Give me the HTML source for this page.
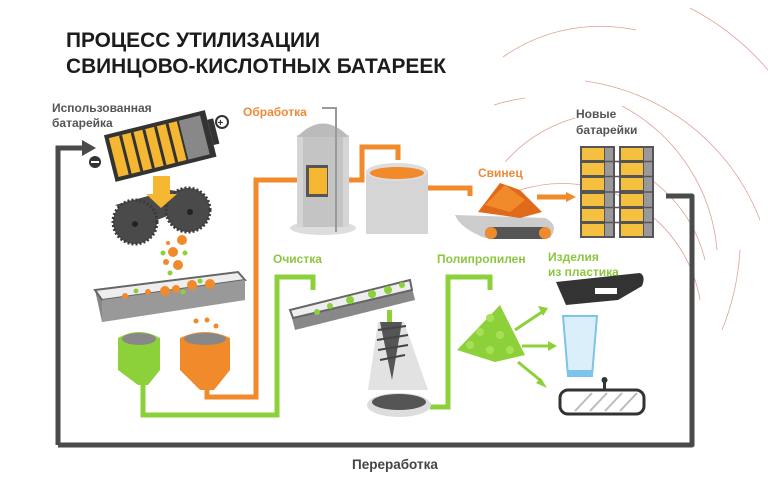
<!DOCTYPE html>
<html><head><meta charset="utf-8"><style>
html,body{margin:0;padding:0;background:#fff;}
svg{display:block;}
text{font-family:"Liberation Sans","DejaVu Sans",sans-serif;font-weight:bold;}
</style></head><body>
<svg width="768" height="504" viewBox="0 0 768 504" xmlns="http://www.w3.org/2000/svg">
<!-- arcs -->
<g fill="none" stroke="#c8654e" stroke-width="0.8" opacity="0.6">
<path d="M503 57 A170 170 0 0 1 636 30"/>
<path d="M690 8 A260 260 0 0 1 768 70"/>
<path d="M585 81 A220 220 0 0 1 760 220"/>
<path d="M494 105 A200 200 0 0 1 525 98"/>
<path d="M622 106 A180 180 0 0 1 717 250"/>
<path d="M505 162 A150 150 0 0 1 575 118"/>
<path d="M520 190 A140 140 0 0 1 700 300"/>
<path d="M740 250 A250 250 0 0 1 722 330"/>
<path d="M612 160 A140 140 0 0 1 705 260"/>
</g>
<!-- title -->
<text x="66" y="47" font-size="21" fill="#1c1c1c" textLength="254" lengthAdjust="spacingAndGlyphs">ПРОЦЕСС УТИЛИЗАЦИИ</text>
<text x="66" y="73" font-size="21" fill="#1c1c1c" textLength="380" lengthAdjust="spacingAndGlyphs">СВИНЦОВО-КИСЛОТНЫХ БАТАРЕЕК</text>
<!-- gray loop -->
<path d="M58 445 V148 H84" fill="none" stroke="#4a4a4a" stroke-width="5"/>
<polygon points="82,140 96,148 82,156" fill="#4a4a4a"/>
<path d="M58 445 H692 V196 H666" fill="none" stroke="#4a4a4a" stroke-width="5" stroke-linejoin="round"/>
<text x="352" y="469" font-size="13.5" fill="#444">Переработка</text>
<!-- labels -->
<text x="52" y="112" font-size="12" fill="#555">Использованная</text>
<text x="52" y="127" font-size="12" fill="#555">батарейка</text>
<text x="243" y="116" font-size="12" fill="#f08a3a">Обработка</text>
<text x="273" y="263" font-size="12" fill="#8cc63f">Очистка</text>
<text x="437" y="263" font-size="12" fill="#8cc63f">Полипропилен</text>
<text x="548" y="261" font-size="12" fill="#8cc63f">Изделия</text>
<text x="548" y="276" font-size="12" fill="#8cc63f">из пластика</text>
<text x="478" y="177" font-size="12" fill="#f08a3a">Свинец</text>
<text x="576" y="118" font-size="12" fill="#555">Новые</text>
<text x="576" y="134" font-size="12" fill="#555">батарейки</text>
<!-- old battery -->
<g transform="rotate(-14 160 145)">
<rect x="108" y="122" width="104" height="48" fill="#333"/>
<rect x="112" y="126" width="70" height="40" fill="#f5b731"/>
<g stroke="#333" stroke-width="3"><line x1="124" y1="126" x2="124" y2="166"/><line x1="136" y1="126" x2="136" y2="166"/><line x1="148" y1="126" x2="148" y2="166"/><line x1="160" y1="126" x2="160" y2="166"/><line x1="172" y1="126" x2="172" y2="166"/></g>
<rect x="184" y="126" width="22" height="40" fill="#888"/>
<rect x="212" y="132" width="6" height="26" fill="#333"/>
</g>
<circle cx="222" cy="122" r="6" fill="#fff" stroke="#333" stroke-width="2"/><text x="217.5" y="126" font-size="10" fill="#333">+</text>
<circle cx="95" cy="162" r="6" fill="#333"/><rect x="91" y="161" width="8" height="2" fill="#fff"/>
<!-- rollers -->
<path d="M118 205 L170 190 L205 195 L160 218 Z" fill="#555"/>
<path d="M115 205 L170 190 L208 200 L152 222 Z" fill="#4a4a4a"/>
<circle cx="135" cy="222" r="22" fill="#4a4a4a" stroke="#3a3a3a" stroke-width="3" stroke-dasharray="2 2"/>
<circle cx="188" cy="210" r="22" fill="#4a4a4a" stroke="#3a3a3a" stroke-width="3" stroke-dasharray="2 2"/>
<circle cx="135" cy="224" r="3" fill="#222"/><circle cx="190" cy="212" r="3" fill="#222"/>
<!-- yellow arrow -->
<rect x="153" y="176" width="17" height="20" fill="#f5b731"/>
<polygon points="146,194 177,194 161,208" fill="#f5b731"/>
<!-- particles -->
<g fill="#f08a2a"><circle cx="182" cy="240" r="5"/><circle cx="173" cy="252" r="5"/><circle cx="178" cy="265" r="5"/><circle cx="168" cy="243" r="2"/><circle cx="166" cy="262" r="3"/></g>
<g fill="#8cd03a"><circle cx="163" cy="253" r="2.5"/><circle cx="185" cy="253" r="2.5"/><circle cx="170" cy="273" r="2.5"/></g>
<!-- tray 1 -->
<polygon points="95,290 238,272 245,300 102,322" fill="#888"/>
<polygon points="95,290 238,272 245,280 102,300" fill="#eee" stroke="#666" stroke-width="2"/>
<polygon points="102,300 245,280 245,300 102,322" fill="#999"/>
<g fill="#f08a2a"><circle cx="125" cy="296" r="3"/><circle cx="148" cy="292" r="3"/><circle cx="165" cy="291" r="5"/><circle cx="176" cy="289" r="4"/><circle cx="192" cy="285" r="5"/><circle cx="210" cy="284" r="5"/></g>
<g fill="#8cd03a"><circle cx="136" cy="291" r="2.5"/><circle cx="183" cy="292" r="2.5"/><circle cx="200" cy="281" r="2.5"/></g>
<!-- funnels -->
<path d="M118 338 Q139 326 160 338 V370 L148 385 H138 L118 370 Z" fill="#8cd03a"/>
<ellipse cx="139" cy="339" rx="17" ry="6" fill="#888"/>
<path d="M180 338 Q205 326 230 338 V370 L214 390 H200 L180 370 Z" fill="#f08a2a"/>
<ellipse cx="205" cy="339" rx="21" ry="6" fill="#888"/>
<g fill="#f08a2a"><circle cx="196" cy="321" r="2.5"/><circle cx="207" cy="320" r="2.5"/><circle cx="216" cy="326" r="2.5"/></g>
<!-- orange pipes -->
<g fill="none" stroke="#f08a2a" stroke-width="5">
<path d="M207 388 V397 H256 V180 H328"/>
<path d="M345 180 H362 V147 H398 V160"/>
<path d="M416 188 H470 V196"/>
<path d="M537 197 H568"/>
</g>
<polygon points="566,192 576,197 566,202" fill="#f08a2a"/>
<!-- green pipes -->
<g fill="none" stroke="#8cd03a" stroke-width="5">
<path d="M143 385 V415 H277 V277 H313 V290"/>
<path d="M430 407 H448 V277 H490 V290"/>
</g>
<!-- tank -->
<ellipse cx="323" cy="228" rx="33" ry="7" fill="#ddd"/>
<rect x="297" y="135" width="52" height="92" fill="#d5d5d5"/>
<rect x="303" y="135" width="40" height="92" fill="#c4c4c4"/>
<path d="M297 137 Q323 110 349 137 Z" fill="#bbb"/>
<polyline points="322,108 336,108 336,232" fill="none" stroke="#999" stroke-width="2"/>
<rect x="306" y="165" width="22" height="32" fill="#555"/>
<rect x="309" y="168" width="18" height="26" fill="#f5b731"/>
<!-- pot -->
<rect x="366" y="172" width="62" height="62" fill="#d5d5d5"/>
<ellipse cx="397" cy="172" rx="31" ry="9" fill="#ddd"/>
<ellipse cx="397" cy="173" rx="27" ry="6" fill="#f08a2a"/>
<!-- conveyor -->
<path d="M455 215 L545 218 Q560 225 550 238 L485 238 Q460 228 455 215 Z" fill="#ccc"/>
<rect x="485" y="227" width="65" height="12" rx="6" fill="#555"/>
<circle cx="491" cy="233" r="6" fill="#f08a2a"/><circle cx="545" cy="233" r="6" fill="#f08a2a"/>
<polygon points="478,212 500,183 520,190 542,212 520,218" fill="#e06a1a"/>
<polygon points="485,205 505,185 525,200 510,212" fill="#f08a2a"/>
<!-- new batteries -->
<g>
<rect x="580" y="146" width="35" height="92" fill="#555"/>
<rect x="619" y="146" width="35" height="92" fill="#555"/>
<g fill="#f5c040">
<rect x="582" y="148" width="22" height="12"/><rect x="582" y="163" width="22" height="12"/><rect x="582" y="178" width="22" height="12"/><rect x="582" y="194" width="22" height="12"/><rect x="582" y="209" width="22" height="12"/><rect x="582" y="224" width="22" height="12"/>
<rect x="621" y="148" width="22" height="12"/><rect x="621" y="163" width="22" height="12"/><rect x="621" y="178" width="22" height="12"/><rect x="621" y="194" width="22" height="12"/><rect x="621" y="209" width="22" height="12"/><rect x="621" y="224" width="22" height="12"/>
</g>
<g fill="#999"><rect x="605" y="148" width="8" height="88"/><rect x="644" y="148" width="8" height="88"/></g>
<g stroke="#555" stroke-width="1.5"><line x1="580" y1="161.5" x2="654" y2="161.5"/><line x1="580" y1="176.5" x2="654" y2="176.5"/><line x1="580" y1="192" x2="654" y2="192"/><line x1="580" y1="207.5" x2="654" y2="207.5"/><line x1="580" y1="222.5" x2="654" y2="222.5"/></g>
</g>
<!-- tray 2 -->
<polygon points="290,310 410,280 415,300 295,330" fill="#888"/>
<polygon points="290,310 410,280 412,290 293,318" fill="#eee" stroke="#666" stroke-width="2"/>
<g fill="#8cd03a"><circle cx="317" cy="312" r="3"/><circle cx="330" cy="306" r="3"/><circle cx="350" cy="300" r="4"/><circle cx="372" cy="294" r="4"/><circle cx="388" cy="290" r="4"/><circle cx="402" cy="285" r="3"/></g>
<!-- cone separator -->
<rect x="387" y="310" width="5" height="12" fill="#8cd03a"/>
<path d="M378 322 H404 L428 390 H368 Z" fill="#e2e2e2"/>
<path d="M380 322 H402 L392 380 Z" fill="#555"/>
<g stroke="#444" stroke-width="2"><line x1="378" y1="330" x2="406" y2="326"/><line x1="377" y1="340" x2="408" y2="335"/><line x1="378" y1="350" x2="408" y2="345"/><line x1="380" y1="360" x2="405" y2="355"/></g>
<ellipse cx="399" cy="405" rx="32" ry="12" fill="#ddd"/>
<ellipse cx="399" cy="402" rx="27" ry="8" fill="#555"/>
<!-- pellets -->
<polygon points="457,350 500,305 525,355 495,362" fill="#8cd03a"/>
<g fill="#a8e055"><circle cx="490" cy="318" r="4"/><circle cx="480" cy="332" r="4"/><circle cx="500" cy="335" r="4"/><circle cx="470" cy="345" r="4"/><circle cx="510" cy="350" r="4"/><circle cx="490" cy="350" r="4"/></g>
<g stroke="#8cd03a" stroke-width="3">
<line x1="515" y1="330" x2="542" y2="312"/><line x1="522" y1="346" x2="550" y2="346"/><line x1="518" y1="362" x2="540" y2="380"/></g>
<polygon points="538,306 548,308 543,316" fill="#8cd03a"/>
<polygon points="548,341 557,346 548,351" fill="#8cd03a"/>
<polygon points="536,383 547,388 541,378" fill="#8cd03a"/>
<!-- bumper -->
<path d="M556 282 L640 273 Q646 276 642 286 L618 300 L566 305 Z" fill="#333"/>
<rect x="595" y="288" width="22" height="6" fill="#fff"/>
<!-- glass -->
<path d="M563 316 H597 L592 376 H568 Z" fill="#dbeffa" stroke="#7cc4e8" stroke-width="2"/>
<rect x="568" y="370" width="24" height="6" fill="#7cc4e8"/>
<!-- mirror -->
<rect x="603" y="380" width="3" height="10" fill="#333"/><circle cx="604.5" cy="380" r="3" fill="#333"/>
<rect x="560" y="390" width="84" height="24" rx="8" fill="#fff" stroke="#333" stroke-width="3"/>
<g stroke="#bbb" stroke-width="2"><line x1="575" y1="411" x2="592" y2="393"/><line x1="590" y1="411" x2="607" y2="393"/><line x1="605" y1="411" x2="622" y2="393"/><line x1="620" y1="411" x2="637" y2="393"/></g>
</svg>
</body></html>
